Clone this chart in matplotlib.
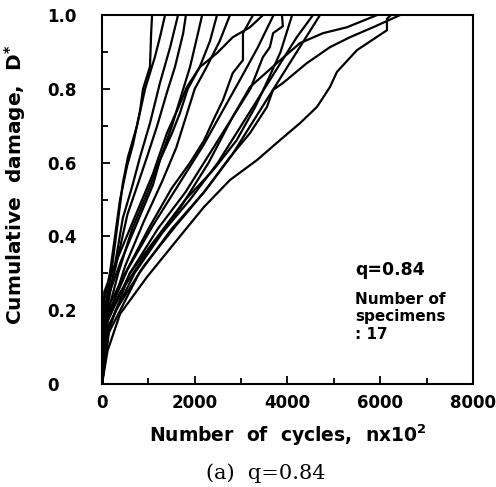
import numpy as np
import matplotlib
matplotlib.use('Agg')
import matplotlib.pyplot as plt
from matplotlib.ticker import MultipleLocator

# ── Data: cumulative damage curves for 17 specimens (n x 10^2, D*) ─────────
c01_n = [0, 40, 170, 390, 540, 670, 820, 885, 1035, 1060, 1080]
c01_d = [0, 0.22, 0.30, 0.50, 0.59, 0.65, 0.74, 0.80, 0.86, 0.95, 1.0]
c02_n = [0, 60, 200, 450, 560, 755, 930, 1140, 1250, 1360]
c02_d = [0, 0.20, 0.30, 0.545, 0.615, 0.70, 0.80, 0.886, 0.94, 1.0]
c03_n = [0, 80, 250, 450, 650, 820, 1035, 1250, 1470, 1640]
c03_d = [0, 0.18, 0.30, 0.45, 0.535, 0.615, 0.707, 0.816, 0.913, 1.0]
c04_n = [0, 60, 300, 550, 755, 970, 1190, 1400, 1575, 1750, 1810]
c04_d = [0, 0.20, 0.32, 0.46, 0.535, 0.615, 0.70, 0.79, 0.86, 0.95, 1.0]
c05_n = [0, 100, 350, 650, 1035, 1250, 1510, 1680, 1900, 2050, 2160]
c05_d = [0, 0.18, 0.30, 0.42, 0.535, 0.607, 0.70, 0.77, 0.86, 0.94, 1.0]
c06_n = [0, 80, 400, 800, 1100, 1250, 1510, 1680, 1850, 2110, 2330, 2480]
c06_d = [0, 0.22, 0.33, 0.45, 0.54, 0.607, 0.68, 0.734, 0.80, 0.86, 0.93, 1.0]
c07_n = [0, 120, 500, 900, 1300, 1600, 1800, 2000, 2260, 2540, 2760]
c07_d = [0, 0.17, 0.32, 0.44, 0.55, 0.64, 0.72, 0.80, 0.86, 0.93, 1.0]
c08_n = [0, 100, 500, 1000, 1500, 1900, 2200, 2400, 2610, 2820, 3040, 3040, 3256]
c08_d = [0, 0.20, 0.30, 0.42, 0.53, 0.60, 0.66, 0.715, 0.77, 0.843, 0.878, 0.951, 1.0]
c09_n = [0, 50, 300, 700, 1100, 1400, 1650, 1830, 2110, 2480, 2820, 3190, 3471]
c09_d = [0, 0.25, 0.33, 0.45, 0.57, 0.68, 0.75, 0.805, 0.859, 0.897, 0.94, 0.967, 1.0]
c10_n = [0, 150, 600, 1200, 1800, 2300, 2800, 3200, 3470, 3620, 3690, 3900, 3881]
c10_d = [0, 0.15, 0.30, 0.42, 0.52, 0.62, 0.72, 0.80, 0.886, 0.913, 0.951, 0.97, 1.0]
c11_n = [0, 150, 700, 1300, 1900, 2500, 3000, 3400, 3800, 4200, 4549]
c11_d = [0, 0.16, 0.30, 0.41, 0.50, 0.60, 0.70, 0.78, 0.86, 0.94, 1.0]
c12_n = [0, 100, 550, 1100, 1700, 2200, 2600, 3000, 3350, 3700]
c12_d = [0, 0.18, 0.31, 0.43, 0.55, 0.65, 0.74, 0.83, 0.91, 1.0]
c13_n = [0, 120, 600, 1200, 1800, 2400, 2900, 3300, 3600, 3850, 4100]
c13_d = [0, 0.17, 0.30, 0.40, 0.50, 0.58, 0.66, 0.75, 0.83, 0.90, 1.0]
c14_n = [0, 150, 800, 1500, 2200, 2800, 3300, 3700, 4100, 4450, 4700]
c14_d = [0, 0.14, 0.30, 0.42, 0.52, 0.62, 0.72, 0.80, 0.88, 0.95, 1.0]
c15_n = [0, 80, 400, 1000, 1700, 2300, 2800, 3191, 3773, 4269, 4765, 5282, 5929]
c15_d = [0, 0.17, 0.25, 0.36, 0.48, 0.60, 0.72, 0.805, 0.870, 0.924, 0.951, 0.967, 1.0]
c16_n = [0, 60, 300, 900, 1600, 2200, 2760, 3191, 3557, 3687, 3903, 4420, 4916, 5347, 5900, 6425]
c16_d = [0, 0.12, 0.20, 0.32, 0.43, 0.52, 0.615, 0.68, 0.751, 0.797, 0.816, 0.870, 0.913, 0.94, 0.97, 1.0]
c17_n = [0, 120, 390, 970, 1680, 2200, 2760, 3342, 3838, 4269, 4635, 4916, 5067, 5498, 6145, 6145, 6230]
c17_d = [0, 0.09, 0.19, 0.29, 0.40, 0.48, 0.553, 0.607, 0.661, 0.707, 0.751, 0.805, 0.846, 0.905, 0.959, 0.99, 1.0]

curves = [(c01_n, c01_d), (c02_n, c02_d), (c03_n, c03_d), (c04_n, c04_d),
          (c05_n, c05_d), (c06_n, c06_d), (c07_n, c07_d), (c08_n, c08_d),
          (c09_n, c09_d), (c10_n, c10_d), (c11_n, c11_d), (c12_n, c12_d),
          (c13_n, c13_d), (c14_n, c14_d), (c15_n, c15_d), (c16_n, c16_d),
          (c17_n, c17_d)]

x_ticks = [0, 2000, 4000, 6000, 8000]
y_ticks = [0, 0.2, 0.4, 0.6, 0.8, 1.0]
y_ticklabels = ['0', '0.2', '0.4', '0.6', '0.8', '1.0']

# ── Plot ────────────────────────────────────────────────────────────────────
plt.rcParams['font.family'] = ['DejaVu Sans']
fig = plt.figure(figsize=(4.96, 4.87), dpi=100, facecolor='white')
ax = fig.add_axes([0.2056, 0.2115, 0.748, 0.7575])

for n, d in curves:
    ax.plot(n, d, color='black', linewidth=1.6, solid_joinstyle='round')

ax.set_xlim(0, 8000)
ax.set_ylim(0, 1.0)
ax.set_xticks(x_ticks)
ax.set_xticklabels([str(v) for v in x_ticks])
ax.set_yticks(y_ticks)
ax.set_yticklabels(y_ticklabels)
ax.xaxis.set_minor_locator(MultipleLocator(1000))
ax.yaxis.set_minor_locator(MultipleLocator(0.1))
ax.tick_params(which='both', direction='in', width=1.3, top=False, right=False)
ax.tick_params(which='major', length=6)
ax.tick_params(which='minor', length=4)
ax.tick_params(axis='x', pad=7, labelsize=12)
ax.tick_params(axis='y', pad=39.5, labelsize=12)
for lab in ax.get_xticklabels() + ax.get_yticklabels():
    lab.set_fontweight('bold')
for lab in ax.get_yticklabels():
    lab.set_horizontalalignment('left')
for s in ax.spines.values():
    s.set_linewidth(1.5)

ax.set_xlabel('Number  of  cycles,  nx10$^\\mathbf{2}$', fontsize=13.5, fontweight='bold', labelpad=8)
ax.set_ylabel('Cumulative  damage,  D$^\\mathbf{*}$', fontsize=14.5, fontweight='bold')
ax.yaxis.set_label_coords(-0.2, 0.54)

ax.text(0.682, 0.309, 'q=0.84', transform=ax.transAxes, fontsize=12.5,
        fontweight='bold', va='center')
ax.text(0.682, 0.228, 'Number of', transform=ax.transAxes, fontsize=11,
        fontweight='bold', va='center')
ax.text(0.682, 0.184, 'specimens', transform=ax.transAxes, fontsize=11,
        fontweight='bold', va='center')
ax.text(0.682, 0.135, ': 17', transform=ax.transAxes, fontsize=11,
        fontweight='bold', va='center')

fig.text(0.536, 0.029, '(a)  q=0.84', family=['DejaVu Serif'],
         fontsize=15, ha='center', va='center')

fig.savefig('out.png', dpi=100, facecolor='white')
